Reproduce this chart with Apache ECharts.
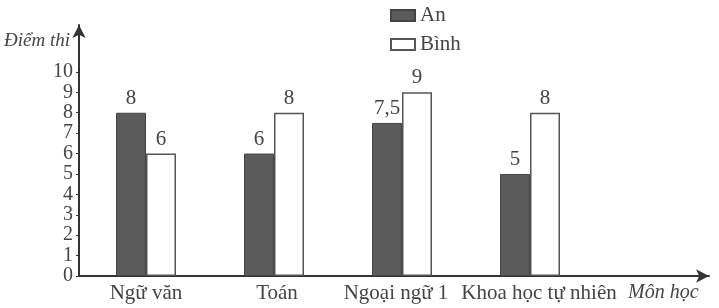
<!DOCTYPE html>
<html>
<head>
<meta charset="utf-8">
<script src="https://cdn.jsdelivr.net/npm/echarts@6/dist/echarts.min.js"></script>
<style>html,body{margin:0;padding:0;background:#fff}#c{width:719px;height:308px}</style>
</head>
<body>
<div id="c"></div>
<script>
const categories = ['Ngữ văn', 'Toán', 'Ngoại ngữ 1', 'Khoa học tự nhiên'];
const anScores = [8, 6, 7.5, 5];
const binhScores = [6, 8, 9, 8];
const yTicks = [0, 1, 2, 3, 4, 5, 6, 7, 8, 9, 10];
const seriesNames = ['An', 'Bình'];
const yAxisName = 'Điểm thi';
const xAxisName = 'Môn học';

const FONT = "'Liberation Serif', 'DejaVu Serif', serif";
const TXT = '#444';
const AX = '#333';
const YMAX = 12.3;
const FS = 21;
// small horizontal nudges of category labels (left, right padding)
const labelPads = [[0, 0], [6, 0], [0, 12], [18, 0]];

const chart = echarts.init(document.getElementById('c'), null, {renderer: 'canvas'});
const fmt = p => String(p.value).replace('.', ',');
const option = {
  animation: false,
  backgroundColor: '#fff',
  textStyle: {fontFamily: FONT},
  legend: {
    orient: 'vertical', left: 385, top: 0, itemWidth: 24, itemHeight: 11, itemGap: 8,
    icon: 'rect',
    data: seriesNames,
    textStyle: {fontFamily: FONT, fontSize: FS, color: TXT}
  },
  grid: [
    {left: 79, right: 10, top: 25, bottom: 32},
    {left: 82, width: 512, top: 25, bottom: 32}
  ],
  xAxis: [
    {
      gridIndex: 0, type: 'value', min: 0, max: 1,
      axisLine: {show: true, symbol: ['none', 'arrow'], symbolSize: [10, 13], lineStyle: {color: AX, width: 2}},
      axisTick: {show: false}, axisLabel: {show: false}, splitLine: {show: false},
      name: xAxisName, nameLocation: 'end', nameGap: -81,
      nameTextStyle: {fontFamily: FONT, fontStyle: 'italic', fontSize: 20, color: TXT, align: 'left', verticalAlign: 'top', padding: [7, 0, 0, 0]}
    },
    {
      gridIndex: 1, type: 'category',
      data: categories.map((c, i) => ({value: c, textStyle: {padding: [0, labelPads[i][1], 0, labelPads[i][0]]}})),
      axisLine: {show: false}, axisTick: {show: false},
      axisLabel: {fontFamily: FONT, fontSize: FS, color: TXT, margin: 7, interval: 0}
    }
  ],
  yAxis: [
    {
      gridIndex: 0, type: 'value', min: 0, max: YMAX, interval: 1,
      axisLine: {show: true, symbol: ['none', 'arrow'], symbolSize: [10, 13], lineStyle: {color: AX, width: 2}},
      axisTick: {show: true, length: 3, customValues: yTicks, lineStyle: {color: AX}},
      axisLabel: {customValues: yTicks, fontFamily: FONT, fontSize: 20, color: TXT, margin: 6},
      splitLine: {show: false},
      name: yAxisName, nameLocation: 'end', nameGap: -16,
      nameTextStyle: {fontFamily: FONT, fontStyle: 'italic', fontSize: 19, color: TXT, align: 'right', verticalAlign: 'middle', padding: [0, 9, 0, 0]}
    },
    {gridIndex: 1, type: 'value', min: 0, max: YMAX, show: false}
  ],
  series: [
    {
      name: seriesNames[0], type: 'bar', xAxisIndex: 1, yAxisIndex: 1, data: anScores,
      barWidth: 30, barGap: '0%',
      itemStyle: {color: '#5b5b5b', borderColor: '#444', borderWidth: 1},
      label: {show: true, position: 'top', distance: 4, fontFamily: FONT, fontSize: FS, color: TXT, formatter: fmt}
    },
    {
      name: seriesNames[1], type: 'bar', xAxisIndex: 1, yAxisIndex: 1, data: binhScores,
      barWidth: 30, barGap: '0%',
      itemStyle: {color: '#ffffff', borderColor: '#555', borderWidth: 1.5},
      label: {show: true, position: 'top', distance: 4, fontFamily: FONT, fontSize: FS, color: TXT, formatter: fmt}
    }
  ]
};
chart.setOption(option);
</script>
</body>
</html>
